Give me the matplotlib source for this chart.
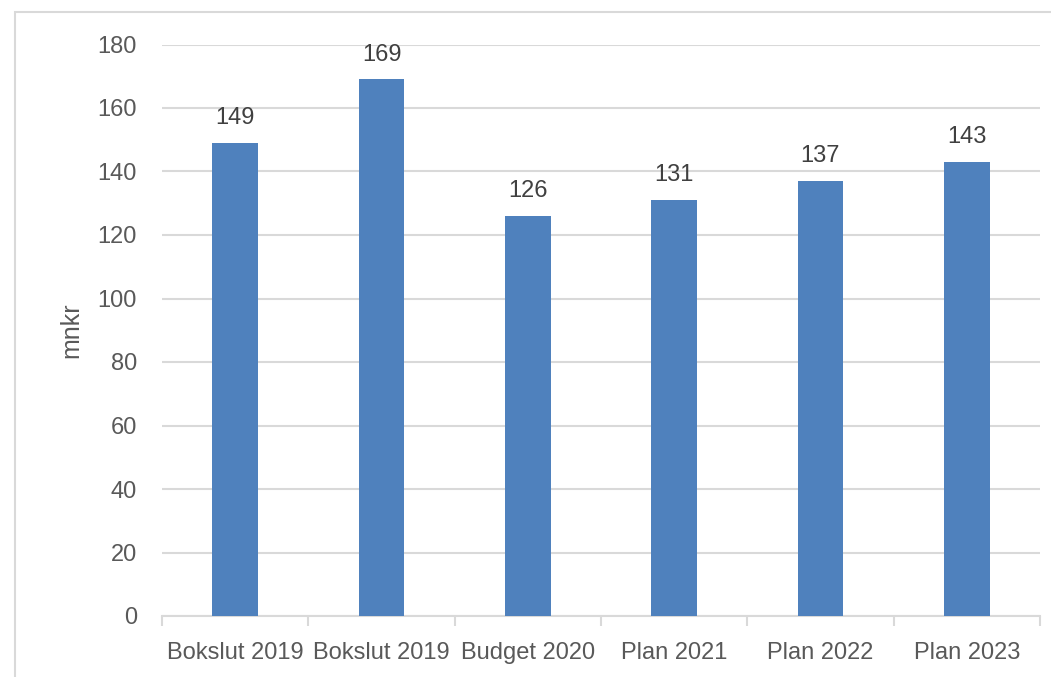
import matplotlib
matplotlib.use("Agg")
import matplotlib.pyplot as plt
from matplotlib.patches import Rectangle
import numpy as np

categories = ["Bokslut 2019", "Bokslut 2019", "Budget 2020", "Plan 2021", "Plan 2022", "Plan 2023"]
values = [149, 169, 126, 131, 137, 143]
yticks = [0, 20, 40, 60, 80, 100, 120, 140, 160, 180]

plt.rcParams['font.family'] = ['Liberation Sans', 'DejaVu Sans']
W, H = 1051, 677
fig = plt.figure(figsize=(W/100, H/100), dpi=100)
fig.patch.set_facecolor("white")

# outer chart frame
fig.patches.append(Rectangle((15/W, -0.05), 1.1, 1 - 12/H + 0.05, transform=fig.transFigure,
                             fill=False, edgecolor="#D9D9D9", linewidth=1.5, zorder=0))

ax = fig.add_axes([162/W, 1 - 616/H, (1040-162)/W, (616-44.5)/H])
x = np.arange(len(categories))
ax.bar(x, values, width=0.31, color="#4F81BD", zorder=3)
ax.set_xlim(-0.5, len(categories) - 0.5)
ax.set_ylim(0, 180)
ax.set_yticks(yticks)
ax.yaxis.grid(True, color="#D9D9D9", linewidth=1.5, zorder=0)
ax.set_axisbelow(True)
for s in ["top", "right", "left"]:
    ax.spines[s].set_visible(False)
ax.spines["bottom"].set_color("#D9D9D9")
ax.spines["bottom"].set_linewidth(1.5)
ax.tick_params(axis="y", length=0, pad=18, labelsize=17, labelcolor="#595959")
ax.set_xticks(x)
ax.set_xticklabels(categories)
ax.tick_params(axis="x", which="major", length=0, pad=19, labelsize=17, labelcolor="#595959")
ax.set_xticks(np.arange(-0.5, len(categories)), minor=True)
ax.tick_params(axis="x", which="minor", length=7, width=1.5, color="#D9D9D9", direction="out")

for xi, v in zip(x, values):
    ax.annotate(str(v), (xi, v), xytext=(0, 10), textcoords="offset points",
                ha="center", va="bottom", fontsize=17, color="#404040")

ax.set_ylabel("mnkr", fontsize=18, color="#595959", labelpad=10)

fig.savefig("out.png", dpi=100, facecolor="white")
